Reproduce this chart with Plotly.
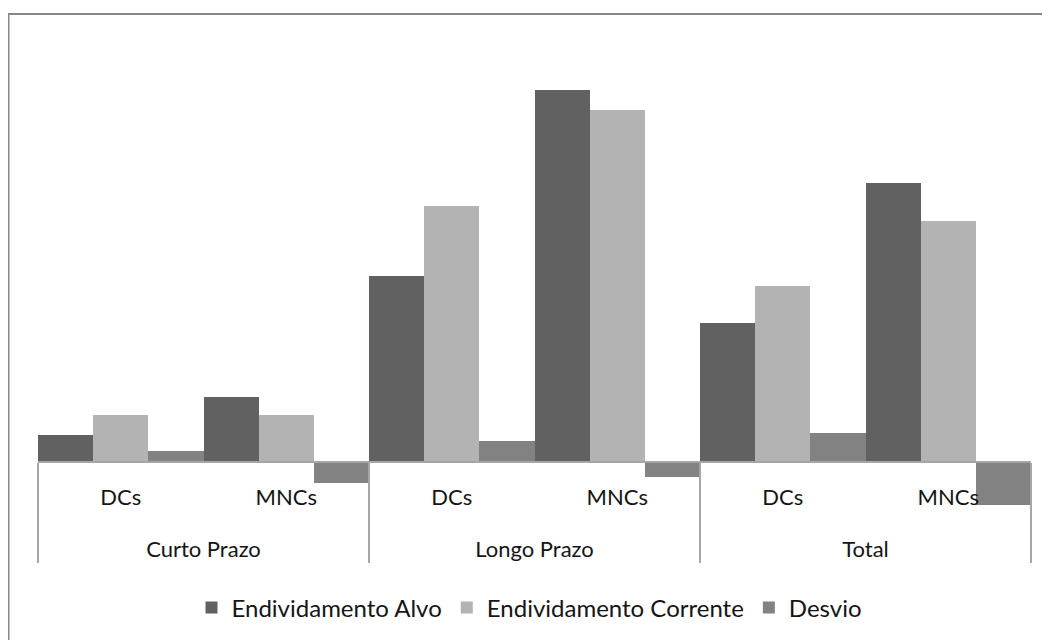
import plotly.graph_objects as go

groups = ["Curto Prazo", "Curto Prazo", "Longo Prazo", "Longo Prazo", "Total", "Total"]
subcats = ["DCs", "MNCs", "DCs", "MNCs", "DCs", "MNCs"]

endiv_alvo = [2.7, 6.5, 18.6, 37.2, 13.9, 27.9]
endiv_corrente = [4.7, 4.7, 25.6, 35.2, 17.6, 24.1]
desvio = [1.1, -2.1, 2.1, -1.5, 2.9, -4.3]

series_names = ["Endividamento Alvo", "Endividamento Corrente", "Desvio"]
series_colors = ["#616161", "#b3b3b3", "#828282"]

FONT = "Lato"
TXT = "#151515"


def lbl(s):
    return '<span style="font-size:22px">' + s + '</span>'


# leading line break (line height from the larger axis font) pushes the group row down
group_labels = ["<br>" + lbl(g) for g in groups]
sub_labels = [lbl(s) for s in subcats]

fig = go.Figure()
for name, vals, col in zip(series_names, [endiv_alvo, endiv_corrente, desvio], series_colors):
    fig.add_trace(go.Bar(
        x=[group_labels, sub_labels], y=vals, name=name,
        marker=dict(color=col, line=dict(width=0)),
    ))

# the page body has an 8px margin: layout coordinates = reference pixels - 8
y_lo, y_hi = -5.0, 42.2
L, T, PB, PR = 30, 32, 504, 1023
fig.update_layout(
    width=1050, height=640,
    margin=dict(l=L, r=1050 - PR, t=T, b=640 - PB),
    paper_bgcolor="white", plot_bgcolor="white",
    barmode="group", bargap=0, bargroupgap=0,
    showlegend=True,
    legend=dict(orientation="h", x=0.5 - 5 / (PR - L), xanchor="center",
                y=(PB - 600) / (PB - T), yanchor="middle",
                font=dict(family=FONT, size=24, color=TXT)),
    font=dict(family=FONT, size=22, color=TXT),
    xaxis=dict(
        type="multicategory", anchor="free", position=-y_lo / (y_hi - y_lo),
        showline=True, linecolor="#a6a6a6", linewidth=1.5,
        ticks="", showgrid=False, zeroline=False,
        showdividers=True, dividercolor="#a6a6a6", dividerwidth=1.5,
        tickfont=dict(family=FONT, size=26, color=TXT),
        ticklabelstandoff=11,
    ),
    yaxis=dict(range=[y_lo, y_hi], visible=False, showgrid=False, zeroline=False),
    shapes=[dict(type="rect", xref="paper", yref="paper",
                 x0=(0.5 - L) / (PR - L), x1=(1070 - L) / (PR - L),
                 y0=(PB - 700) / (PB - T), y1=(PB - 6) / (PB - T),
                 line=dict(color="#878787", width=2), fillcolor="rgba(0,0,0,0)", layer="above")],
)

fig.write_html("out.html")
